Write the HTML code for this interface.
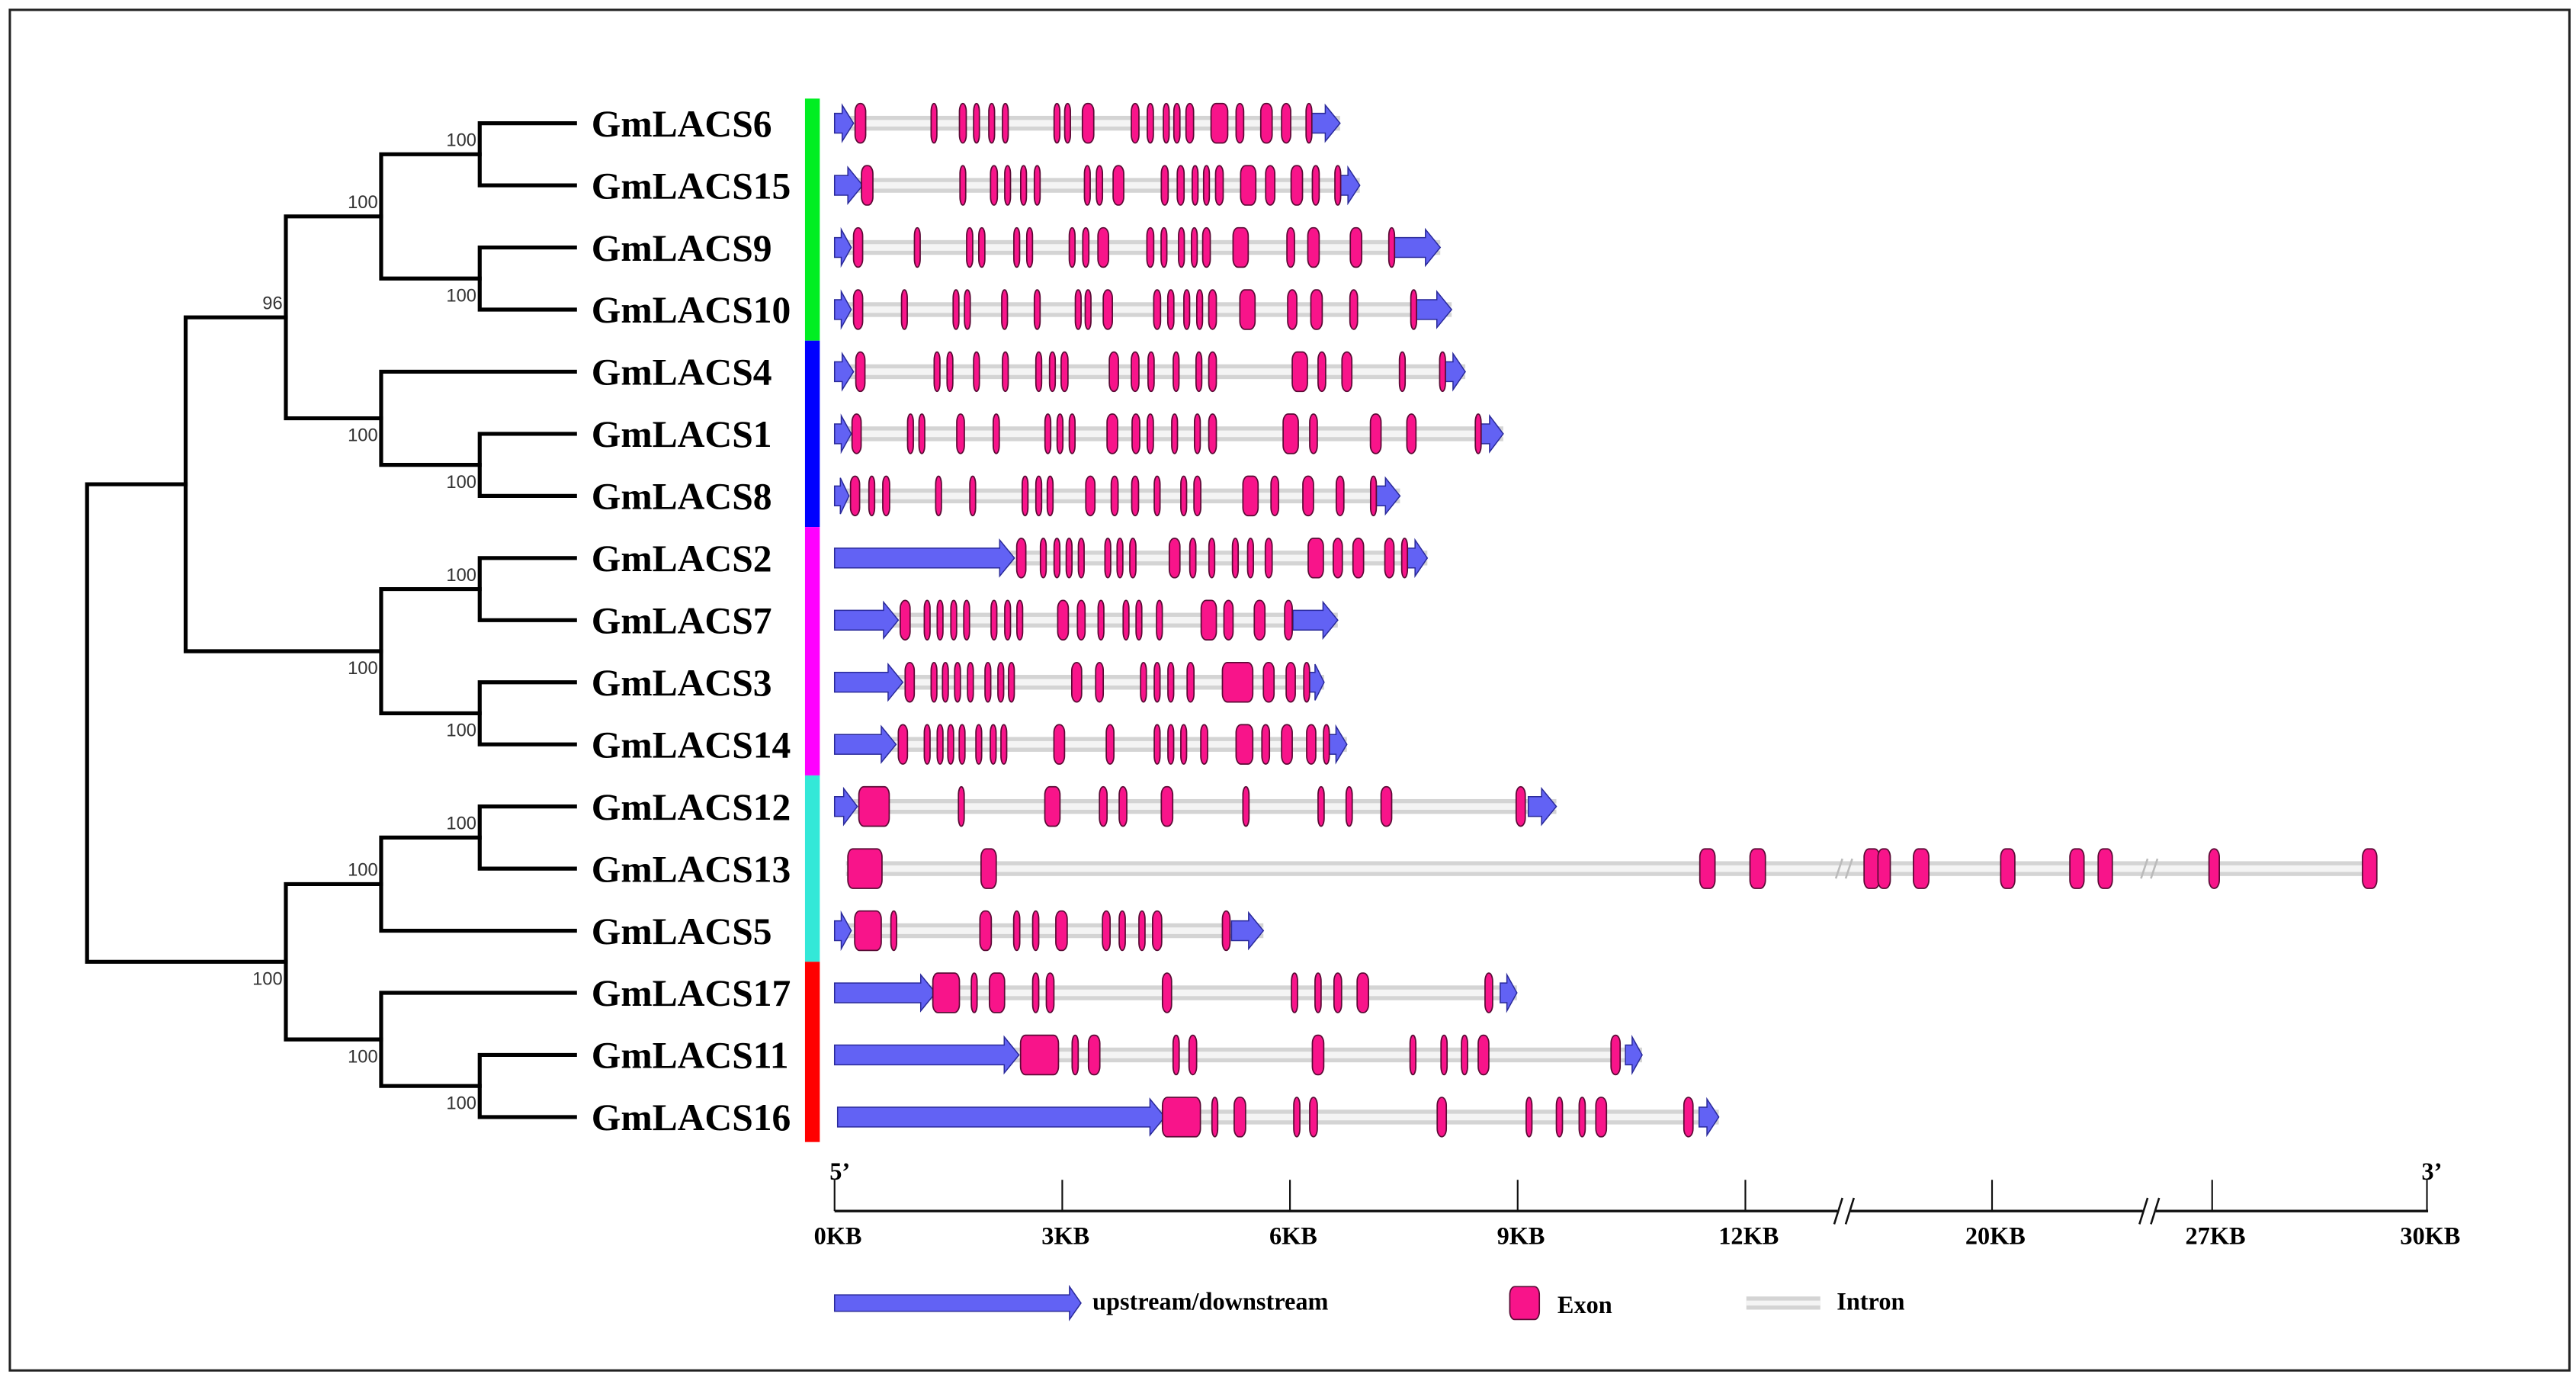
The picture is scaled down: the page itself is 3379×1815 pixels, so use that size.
<!DOCTYPE html>
<html><head><meta charset="utf-8"><style>
html,body{margin:0;padding:0;background:#fff;}
svg{display:block;}
.lbl{font-family:"Liberation Serif",serif;font-weight:bold;}
.bs{font-family:"Liberation Sans",sans-serif;font-size:11px;fill:#333;}
</style></head><body>
<svg id="chart" xmlns="http://www.w3.org/2000/svg" width="3379" height="1815" viewBox="0 0 1568 842.25" preserveAspectRatio="none">
<rect x="6" y="6" width="1558" height="828" fill="#fff" stroke="#222" stroke-width="1.4"/>
<g id="tree"></g>
<g id="bars"></g>
<g id="genes"></g>
<g id="axis"></g>
<g id="legend"></g>
</svg>
<script>
const geneNames = ['GmLACS6','GmLACS15','GmLACS9','GmLACS10','GmLACS4','GmLACS1','GmLACS8','GmLACS2','GmLACS7','GmLACS3','GmLACS14','GmLACS12','GmLACS13','GmLACS5','GmLACS17','GmLACS11','GmLACS16'];
const upstream = [[0,0.25],[0,0.37],[0,0.22],[0,0.22],[0,0.25],[0,0.22],[0,0.19],[0,2.37],[0,0.84],[0,0.90],[0,0.81],[0,0.30],null,[0,0.22],[0,1.33],[0,2.43],[0.04,4.35]];
const downstream = [[6.28,6.66],[6.66,6.92],[7.37,7.98],[7.66,8.13],[8.04,8.31],[8.51,8.81],[7.13,7.45],[7.54,7.81],[6.04,6.63],[6.25,6.45],[6.51,6.75],[9.14,9.51],null,[5.23,5.65],[8.77,8.99],[10.42,10.64],[11.39,11.65]];
const exons = [
 [[0.34,.14],[1.31,.05],[1.69,.09],[1.87,.07],[2.07,.07],[2.25,.07],[2.93,.07],[3.07,.07],[3.34,.15],[3.96,.1],[4.16,.08],[4.37,.06],[4.51,.08],[4.68,.1],[5.07,.22],[5.34,.1],[5.69,.15],[5.95,.12],[6.25,.04]],
 [[0.43,.15],[1.69,.05],[2.10,.09],[2.28,.07],[2.49,.06],[2.67,.07],[3.33,.07],[3.49,.08],[3.74,.14],[4.35,.09],[4.56,.09],[4.75,.06],[4.90,.07],[5.07,.1],[5.45,.2],[5.74,.12],[6.09,.15],[6.34,.09],[6.63,.04]],
 [[0.31,.12],[1.09,.05],[1.78,.08],[1.94,.08],[2.40,.07],[2.57,.07],[3.13,.06],[3.31,.08],[3.54,.14],[4.16,.09],[4.34,.07],[4.57,.05],[4.74,.07],[4.90,.1],[5.35,.2],[6.01,.1],[6.31,.15],[6.87,.15],[7.34,.06]],
 [[0.31,.12],[0.92,.05],[1.60,.07],[1.75,.07],[2.24,.06],[2.67,.06],[3.21,.07],[3.34,.06],[3.60,.12],[4.25,.09],[4.43,.08],[4.64,.06],[4.81,.07],[4.98,.1],[5.44,.2],[6.03,.12],[6.35,.15],[6.84,.1],[7.63,.06]],
 [[0.34,.12],[1.35,.07],[1.52,.07],[1.87,.05],[2.25,.06],[2.69,.06],[2.87,.07],[3.03,.09],[3.68,.12],[3.96,.1],[4.17,.08],[4.50,.06],[4.80,.07],[4.98,.1],[6.13,.2],[6.42,.1],[6.75,.13],[7.48,.07],[8.01,.06]],
 [[0.29,.12],[1.00,.07],[1.15,.07],[1.66,.1],[2.13,.08],[2.81,.06],[2.97,.07],[3.13,.07],[3.66,.14],[3.97,.1],[4.16,.08],[4.48,.06],[4.78,.07],[4.98,.1],[6.01,.2],[6.31,.1],[7.13,.14],[7.60,.12],[8.48,.06]],
 [[0.27,.12],[0.49,.06],[0.68,.09],[1.37,.06],[1.82,.05],[2.51,.06],[2.69,.06],[2.84,.07],[3.37,.12],[3.69,.09],[3.96,.09],[4.25,.06],[4.60,.07],[4.78,.09],[5.48,.2],[5.80,.1],[6.24,.14],[6.66,.1],[7.10,.05]],
 [[2.46,.12],[2.75,.06],[2.93,.07],[3.09,.06],[3.25,.06],[3.60,.06],[3.76,.06],[3.93,.08],[4.48,.14],[4.72,.08],[4.97,.06],[5.28,.06],[5.48,.06],[5.72,.09],[6.34,.2],[6.63,.12],[6.90,.14],[7.31,.12],[7.51,.05]],
 [[0.93,.13],[1.22,.07],[1.39,.07],[1.57,.06],[1.74,.06],[2.10,.06],[2.28,.06],[2.44,.07],[3.01,.14],[3.25,.1],[3.51,.06],[3.84,.06],[4.01,.06],[4.28,.07],[4.93,.2],[5.19,.12],[5.60,.14],[5.98,.1]],
 [[0.99,.12],[1.31,.07],[1.46,.07],[1.62,.06],[1.79,.06],[2.02,.07],[2.19,.07],[2.33,.07],[3.19,.13],[3.49,.1],[4.07,.07],[4.25,.07],[4.43,.06],[4.69,.09],[5.31,.4],[5.72,.14],[6.01,.12],[6.22,.05]],
 [[0.90,.12],[1.22,.06],[1.39,.06],[1.53,.06],[1.68,.06],[1.90,.06],[2.09,.06],[2.23,.07],[2.96,.14],[3.63,.1],[4.25,.07],[4.43,.07],[4.60,.07],[4.87,.09],[5.40,.22],[5.68,.1],[5.96,.14],[6.28,.12],[6.48,.05]],
 [[0.52,.4],[1.67,.05],[2.87,.2],[3.54,.1],[3.80,.1],[4.38,.15],[5.42,.08],[6.41,.08],[6.78,.08],[7.27,.14],[9.04,.12]],
 [[0.40,.45],[2.03,.2],[11.5,.2],[12.4,.5],[16.1,.5],[16.5,.4],[17.7,.5],[20.5,.45],[22.7,.45],[23.6,.45],[27.0,.2],[29.2,.2]],
 [[0.44,.35],[0.78,.06],[1.99,.15],[2.40,.08],[2.65,.08],[2.99,.15],[3.58,.1],[3.79,.08],[4.05,.08],[4.25,.12],[5.16,.1]],
 [[1.47,.35],[1.84,.06],[2.14,.2],[2.65,.08],[2.84,.1],[4.38,.12],[6.06,.08],[6.37,.08],[6.63,.1],[6.96,.15],[8.62,.1]],
 [[2.70,.5],[3.17,.08],[3.42,.15],[4.50,.08],[4.72,.1],[6.37,.15],[7.62,.06],[8.03,.08],[8.30,.08],[8.55,.14],[10.29,.12]],
 [[4.57,.5],[5.01,.06],[5.34,.15],[6.09,.08],[6.31,.1],[8.00,.12],[9.15,.06],[9.55,.08],[9.85,.08],[10.10,.14],[11.25,.12]]
];
const gene13Span = [0.15, 29.3];
const tickValues = [0,3,6,9,12,20,27,30];
const tickLabels = ['0KB','3KB','6KB','9KB','12KB','20KB','27KB','30KB'];
const axisBreaks = [15.2, 25.0];
const clusterNames = ['green','blue','magenta','cyan','red'];
const clusterColors = ['#00ee22','#0000ff','#ff00ff','#33e8d8','#ff0000'];
const clusterFirst = [0,4,7,11,14];
const clusterLast = [3,6,10,13,16];
// tree: [childA, childB, depthX, bootstrap, labelBelow]; leaves are indices 0..16, internal nodes 'n#'
const treeNodes = {
 n0:[0,1,292,'100',0], n1:[2,3,292,'100',1], n2:['n0','n1',232,'100',0],
 n3:[5,6,292,'100',1], n4:[4,'n3',232,'100',1], n5:['n2','n4',174,'96',0],
 n6:[7,8,292,'100',0], n7:[9,10,292,'100',1], n8:['n6','n7',232,'100',1],
 n9:['n5','n8',113,'',0],
 n10:[11,12,292,'100',0], n11:['n10',13,232,'100',0],
 n12:[15,16,292,'100',1], n13:[14,'n12',232,'100',1], n14:['n11','n13',174,'100',1],
 root:['n9','n14',53,'',0]
};
const NS='http://www.w3.org/2000/svg';
function mk(tag, attrs, parent){const e=document.createElementNS(NS,tag);for(const k in attrs)e.setAttribute(k,attrs[k]);parent.appendChild(e);return e;}
const rowY = i => 75 + i*37.8;
// piecewise axis with breaks
const domainPts=[0,12,20,27,30], pseudoPts=[0,12,15.25,18.15,20.98];
function X(kb){let i=0;while(i<domainPts.length-2&&kb>domainPts[i+1])i++;
 const p=pseudoPts[i]+(kb-domainPts[i])*(pseudoPts[i+1]-pseudoPts[i])/(domainPts[i+1]-domainPts[i]);return 508+p*46.2;}

// tree
const tree=document.getElementById('tree');
const leafX=350;
const pos={};
function nodePos(k){
 if(typeof k==='number') return {x:leafX,y:rowY(k)};
 if(pos[k]) return pos[k];
 const n=treeNodes[k];const a=nodePos(n[0]),b=nodePos(n[1]);
 pos[k]={x:n[2],y:(a.y+b.y)/2,a:a,b:b};return pos[k];
}
for(const k in treeNodes){
 const p=nodePos(k), n=treeNodes[k];
 let e=mk('path',{d:`M${p.x},${p.a.y}H${p.a.x}M${p.x},${p.b.y}H${p.b.x}M${p.x},${p.a.y}V${p.b.y}`,stroke:'#000','stroke-width':2.4,fill:'none','stroke-linecap':'square'},tree);
 
 
 if(n[3]){
  const t=mk('text',{x:p.x-2,y:n[4]?p.y+14:p.y-5,'text-anchor':'end',class:'bs'},tree);
  t.textContent=n[3];
  
  
 }
}
geneNames.forEach((g,i)=>{
 const t=mk('text',{x:360,y:rowY(i)+8,class:'lbl','font-size':23},tree);
 t.textContent=g;
 
 
});

// cluster bars
const bars=document.getElementById('bars');
const barBounds=[60,204.5,320,471,586,695];
clusterColors.forEach((c,i)=>{
 const y0=i===0?60:(rowY(clusterLast[i-1])+rowY(clusterFirst[i]))/2;
 const y1=i===4?695:(rowY(clusterLast[i])+rowY(clusterFirst[i+1]))/2;
 const r=mk('rect',{x:490,y:y0,width:9,height:y1-y0,fill:c},bars);
 
 
});

// genes
const G=document.getElementById('genes');
function arrow(parent,a,b,cy,bh,hh,name){
 const x0=X(a),x1=X(b);const hl=Math.min(9,(x1-x0)*0.6);
 const pts=[[x0,cy-bh/2],[x1-hl,cy-bh/2],[x1-hl,cy-hh/2],[x1,cy],[x1-hl,cy+hh/2],[x1-hl,cy+bh/2],[x0,cy+bh/2]];
 const p=mk('polygon',{points:pts.map(q=>q.join(',')).join(' '),fill:'#6262f4',stroke:'#2a2a9a','stroke-width':0.7},parent);
 
 
}
function exon(parent,c,w,cy,h,name){
 let x0=X(c-w/2),x1=X(c+w/2);if(x1-x0<3.5){const m=(x0+x1)/2;x0=m-1.75;x1=m+1.75;}
 const r=mk('rect',{x:x0,y:cy-h/2,width:x1-x0,height:h,rx:Math.min((x1-x0)/2,3),ry:5,fill:'#f8148a',stroke:'#5a0a35','stroke-width':0.8},parent);
 
 
}
function intron(parent,a,b,cy,name){
 const g=mk('g',{},parent);
 
 
 mk('rect',{x:X(a),y:cy-4.5,width:X(b)-X(a),height:9,fill:'#d4d4d4'},g);
 mk('rect',{x:X(a),y:cy-2,width:X(b)-X(a),height:4,fill:'#f4f4f4'},g);
}
geneNames.forEach((g,i)=>{
 const cy=rowY(i);
 const grp=mk('g',{},G);
 
 
 const ex=exons[i];
 const s=upstream[i]?upstream[i][0]:gene13Span[0];
 const e=downstream[i]?downstream[i][1]:gene13Span[1];
 intron(grp,s,e,cy,'intron-line');
 if(!upstream[i]){
  axisBreaks.forEach(bk=>{
   const bx=X(bk);
   const w=mk('path',{d:`M${bx-5},${cy+6}L${bx-1},${cy-6}M${bx+1},${cy+6}L${bx+5},${cy-6}`,stroke:'#bbb','stroke-width':1.2,fill:'none'},grp);
   
   
  });
 }
 if(upstream[i]) arrow(grp,upstream[i][0],upstream[i][1],cy,12,22,'upstream-arrow');
 if(downstream[i]) arrow(grp,downstream[i][0],downstream[i][1],cy,12,22,'downstream-arrow');
 ex.forEach((q,j)=>exon(grp,q[0],q[1],cy,24,'exon-'+(j+1)));
});

// axis
const A=document.getElementById('axis');
let al=mk('line',{x1:508,y1:737,x2:1478,y2:737,stroke:'#111','stroke-width':1.6},A);


tickValues.forEach((v,i)=>{
 const x=X(v);
 const t=mk('line',{x1:x,y1:718,x2:x,y2:737,stroke:'#111','stroke-width':1},A);
 
 
 const tx=mk('text',{x:x+2,y:757,'text-anchor':'middle',class:'lbl','font-size':15},A);
 tx.textContent=tickLabels[i];
 
 
});
axisBreaks.forEach(bk=>{
 const bx=X(bk);
 mk('rect',{x:bx-4,y:733,width:8,height:8,fill:'#fff'},A);
 const b=mk('path',{d:`M${bx-6},${745}L${bx-1},${729}M${bx+1},${745}L${bx+6},${729}`,stroke:'#111','stroke-width':1.2,fill:'none'},A);
 
 
});
const p5=mk('text',{x:505,y:718,class:'lbl','font-size':15},A);p5.textContent="5’";


const p3=mk('text',{x:1474,y:718,class:'lbl','font-size':15},A);p3.textContent="3’";



// legend
const L=document.getElementById('legend');
(function(){
 const cy=793;
 const g1=mk('g',{},L);
 
 
 const pts=[[508,cy-5],[651,cy-5],[651,cy-10],[658,cy],[651,cy+10],[651,cy+5],[508,cy+5]];
 mk('polygon',{points:pts.map(q=>q.join(',')).join(' '),fill:'#6262f4',stroke:'#2a2a9a','stroke-width':0.7},g1);
 const t1=mk('text',{x:665,y:cy+4,class:'lbl','font-size':15},g1);t1.textContent='upstream/downstream';
 const g2=mk('g',{},L);
 
 
 mk('rect',{x:919,y:cy-10,width:18,height:20,rx:3,ry:5,fill:'#f8148a',stroke:'#5a0a35','stroke-width':0.8},g2);
 const t2=mk('text',{x:948,y:cy+6,class:'lbl','font-size':15},g2);t2.textContent='Exon';
 const g3=mk('g',{},L);
 
 
 mk('rect',{x:1063,y:cy-4,width:45,height:8,fill:'#d4d4d4'},g3);
 mk('rect',{x:1063,y:cy-1.5,width:45,height:3,fill:'#f4f4f4'},g3);
 const t3=mk('text',{x:1118,y:cy+4,class:'lbl','font-size':15},g3);t3.textContent='Intron';
})();
</script>
</body></html>
